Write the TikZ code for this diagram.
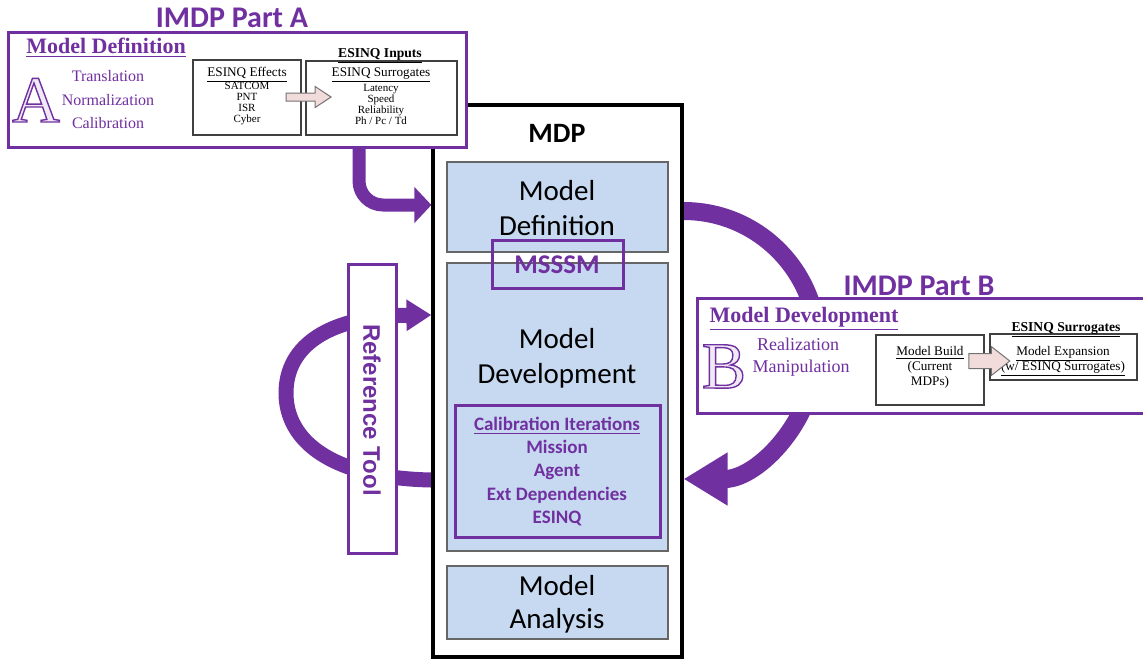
\documentclass[tikz,border=0pt]{standalone}
\usepackage{fontspec}
\setmainfont{Liberation Serif}
\setsansfont{Carlito}
\newfontfamily\arialfont{Liberation Sans}
\usetikzlibrary{arrows.meta,fit,shapes.arrows,backgrounds}
\definecolor{vio}{HTML}{7030A0}
\definecolor{paleblue}{HTML}{C6D9F1}
\definecolor{pinkfill}{HTML}{F2DCDB}
\definecolor{lav}{HTML}{EFEAF3}
\newcommand{\fsz}[1]{\fontsize{#1}{#1}\selectfont}
% outlined capital: fill plus stroke text rendering
\newcommand{\hollow}[1]{\special{pdf:literal direct 2 Tr 0.7 w 0.44 0.19 0.63 RG}#1\special{pdf:literal direct 0 Tr}}

\begin{document}
\begin{tikzpicture}[x=0.5pt,y=-0.5pt,
  panel/.style={draw=vio,line width=1.5pt,fill=white,inner sep=0pt},
  plainbox/.style={draw=black!75,line width=0.6pt,fill=white,inner sep=0pt},
  bluebox/.style={draw=black!60,line width=0.7pt,fill=paleblue,inner sep=0pt},
  vframe/.style={draw=vio,line width=1.5pt,inner sep=0pt},
  heading/.style={font=\sffamily\bfseries\fsz{15},text=vio,anchor=base,inner sep=0pt},
  serifhead/.style={font=\rmfamily\bfseries\fsz{11},text=vio,anchor=base,inner sep=0pt},
  seriftext/.style={font=\rmfamily\fsz{8},text=vio,anchor=base,inner sep=0pt},
  seriftextB/.style={font=\rmfamily\fsz{9},text=vio,anchor=base,inner sep=0pt},
  tinytext/.style={font=\rmfamily\fsz{5.5},anchor=base,inner sep=0pt},
  smalltext/.style={font=\rmfamily\fsz{6.6},anchor=base,inner sep=0pt},
  smallhead/.style={font=\rmfamily\bfseries\fsz{6.8},anchor=base,inner sep=0pt},
  mdptext/.style={font=\sffamily\fsz{14.5},anchor=base,inner sep=0pt},
  calibtext/.style={font=\sffamily\bfseries\fsz{9.5},text=vio,anchor=base,inner sep=0pt},
  bigletter/.style={font=\rmfamily\fsz{33},text=lav,anchor=base,inner sep=0pt},
  blockarrow/.style={single arrow,draw=black!55,fill=pinkfill,line width=0.5pt,inner xsep=0pt}
]
\useasboundingbox (0,0) rectangle (1143,660);

% ---------- MDP column ----------
\node[draw=black,line width=1.6pt,fill=white,inner sep=0pt,fit={(433,105)(682,657)}] (mdp) {};
\node[font=\sffamily\bfseries\fsz{14},anchor=base,inner sep=0pt] (mdpT) at (557,142) {MDP};
\node[bluebox,fit={(447,162)(668,252)}] (mdef) {};
\node[bluebox,fit={(447,263)(668,551)}] (mdev) {};
\node[bluebox,fit={(447,566)(668,639)}] (mana) {};
\node[mdptext] (mdefT1) at (557,200) {Model};
\node[mdptext] (mdefT2) at (557,235) {Definition};
\node[vframe,fit={(492,240)(623,288)}] (msssm) {};
\node[font=\sffamily\bfseries\fsz{13.5},text=vio,anchor=base,inner sep=0pt] (msssmT) at (557,273) {MSSSM};
\node[mdptext] (mdevT1) at (557,348) {Model};
\node[mdptext] (mdevT2) at (557,383) {Development};
\node[vframe,fit={(455,405)(660,537)}] (calib) {};
\node[calibtext] (cal1) at (557,430) {\underline{Calibration Iterations}};
\node[calibtext] (cal2) at (557,453) {Mission};
\node[calibtext] (cal3) at (557,476) {Agent};
\node[calibtext] (cal4) at (557,500) {Ext Dependencies};
\node[calibtext] (cal5) at (557,523) {ESINQ};
\node[mdptext] (manaT1) at (557,595) {Model};
\node[mdptext] (manaT2) at (557,628) {Analysis};

% ---------- Part A ----------
\node[panel,fit={(8,32)(466,147)}] (partA) {};
\node[heading] (titleA) at (232,27) {IMDP Part A};
\node[serifhead] (defA) at (106,53) {\underline{Model Definition}};
\node[bigletter] (letA) at (36,122) {\hollow{A}};
\node[seriftext] (tA1) at (108,81) {Translation};
\node[seriftext] (tA2) at (108,105) {Normalization};
\node[seriftext] (tA3) at (108,128) {Calibration};
\node[plainbox,fit={(193,60)(301,135)}] (effects) {};
\node[plainbox,fit={(306,61)(457,135)}] (surr) {};
\node[smallhead] (inputs) at (380,57) {\underline{ESINQ Inputs}};
\node[smalltext] (effH) at (247,76) {\underline{ESINQ Effects}};
\node[tinytext] (e1) at (247,89) {SATCOM};
\node[tinytext] (e2) at (247,100) {PNT};
\node[tinytext] (e3) at (247,111) {ISR};
\node[tinytext] (e4) at (247,122) {Cyber};
\node[smalltext] (surH) at (381,76) {\underline{ESINQ Surrogates}};
\node[tinytext] (s1) at (381,91) {Latency};
\node[tinytext] (s2) at (381,102) {Speed};
\node[tinytext] (s3) at (381,113) {Reliability};
\node[tinytext] (s4) at (381,124) {Ph / Pc / Td};
\node[blockarrow,minimum height=22.5pt,inner ysep=1.75pt,single arrow head extend=3.25pt,single arrow tip angle=67] (arrA) at (305.5,97) {};

% ---------- Part B ----------
\begin{scope}
\clip (0,0) rectangle (1143,660);
\node[panel,fit={(697,298)(1170,413)}] (partB) {};
\end{scope}
\node[heading] (titleB) at (919,295) {IMDP Part B};
\node[serifhead] (defB) at (804,322) {\underline{Model Development}};
\node[bigletter] (letB) at (724,388) {\hollow{B}};
\node[seriftextB] (tB1) at (798,350) {Realization};
\node[seriftextB] (tB2) at (801,372) {Manipulation};
\node[plainbox,fit={(876,335)(984,405)}] (build) {};
\node[plainbox,fit={(990,334)(1137,380)}] (expand) {};
\node[smallhead] (surB) at (1066,331) {\underline{ESINQ Surrogates}};
\node[smalltext] (b1) at (930,355) {\underline{Model Build}};
\node[smalltext] (b2) at (930,370) {(Current};
\node[smalltext] (b3) at (930,385) {MDPs)};
\node[smalltext] (x1) at (1063,355) {\underline{Model Expansion}};
\node[smalltext] (x2) at (1063,370) {\underline{(w/ ESINQ Surrogates)}};
\node[blockarrow,minimum height=20.5pt,inner ysep=3.5pt,single arrow head extend=3.5pt,single arrow tip angle=76] (arrB) at (984.5,361) {};

% ---------- Reference tool ----------
\node[panel,fit={(348,264)(396,553)}] (reftool) {};
\node[rotate=-90,font=\arialfont\bfseries\fsz{12},text=vio,inner sep=0pt] (reftoolT) at (372,410) {Reference Tool};

% ---------- flow arrows (behind the boxes) ----------
\coordinate (aCol) at (359,0);
\coordinate (defRow) at (0,205);
\coordinate (loopLow) at (0,480);
\coordinate (loopHigh) at (0,315);
\coordinate (arcTop) at (0,211);
\begin{scope}[on background layer]
  \fill[white] (0,0) rectangle (1143,660);
  \draw[vio,line width=6.5pt,rounded corners=12pt,-{Triangle[length=8.5pt,width=17.5pt]}]
    (partA.south -| aCol) |- (mdp.west |- defRow);
  \draw[vio,line width=7.5pt,-{Triangle[length=12.5pt,width=15pt]}]
    (mdp.west |- loopLow) .. controls (330,478) and (286,440) .. (286,393)
    .. controls (286,345) and (330,316) .. (mdp.west |- loopHigh);
  \draw[vio,line width=9pt,-{Triangle[length=22pt,width=25pt]}]
    (mdp.east |- arcTop) arc[start angle=-90,end angle=90,radius=134];
\end{scope}
\end{tikzpicture}
\end{document}
